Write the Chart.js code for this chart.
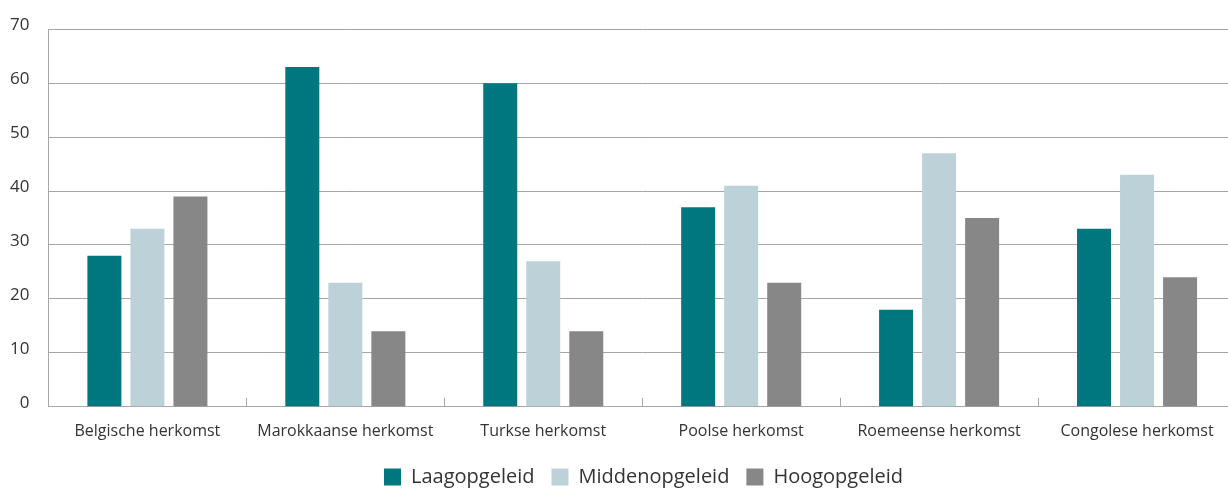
<!DOCTYPE html>
<html>
<head>
<meta charset="utf-8">
<script src="https://cdn.jsdelivr.net/npm/chart.js@4/dist/chart.umd.min.js"></script>
<style>
  html, body { margin: 0; padding: 0; overflow: hidden; background: #fff; }
  #wrap { width: 1236px; height: 492px; }
</style>
</head>
<body>
<div id="wrap"><canvas id="chart"></canvas></div>
<script>
const categories = ["Belgische herkomst", "Marokkaanse herkomst", "Turkse herkomst", "Poolse herkomst", "Roemeense herkomst", "Congolese herkomst"];
const laag = [28, 63, 60, 37, 18, 33];
const midden = [33, 23, 27, 41, 47, 43];
const hoog = [39, 14, 14, 23, 35, 24];
const yTicks = [0, 10, 20, 30, 40, 50, 60, 70];

// short tick marks between categories, pointing up from the x axis
const innerTicks = {
  id: "innerTicks",
  afterLayout(chart) {
    // legend sits a bit right of centre in the original
    chart.legend.left += 30;
    chart.legend.right += 30;
  },
  afterDatasetsDraw(chart) {
    const x = chart.scales.x, y = chart.scales.y;
    const ctx = chart.ctx;
    ctx.save();
    ctx.strokeStyle = "#a6a6a6";
    ctx.lineWidth = 1;
    for (let i = 1; i < categories.length; i++) {
      const px = Math.round((x.getPixelForTick(i - 1) + x.getPixelForTick(i)) / 2) + 0.5;
      ctx.beginPath();
      ctx.moveTo(px, y.bottom);
      ctx.lineTo(px, y.bottom - 9);
      ctx.stroke();
    }
    ctx.restore();
  }
};

new Chart(document.getElementById("chart"), {
  type: "bar",
  data: {
    labels: categories,
    datasets: [
      { label: "Laagopgeleid", data: laag, backgroundColor: "#00767f" },
      { label: "Middenopgeleid", data: midden, backgroundColor: "#bdd1d8" },
      { label: "Hoogopgeleid", data: hoog, backgroundColor: "#878787" }
    ]
  },
  options: {
    responsive: true,
    maintainAspectRatio: false,
    animation: false,
    categoryPercentage: 0.652,
    barPercentage: 0.79,
    layout: { padding: { top: 22, left: -9, right: 0, bottom: -5 } },
    plugins: {
      tooltip: { enabled: false },
      legend: {
        position: "bottom",
        labels: {
          boxWidth: 17,
          boxHeight: 17,
          padding: 17,
          color: "#333333",
          font: { family: "'Open Sans'", size: 20 }
        }
      }
    },
    scales: {
      x: {
        grid: { display: false, drawTicks: false },
        border: { color: "#a6a6a6" },
        afterFit(scale) { scale.height -= 6; },
        ticks: {
          color: "#333333",
          padding: 15,
          maxRotation: 0,
          font: { family: "'Open Sans'", size: 16 }
        }
      },
      y: {
        min: 0,
        max: 70,
        afterBuildTicks(axis) { axis.ticks = yTicks.map(v => ({ value: v })); },
        grid: { color: "#a6a6a6", drawTicks: false },
        border: { color: "#a6a6a6" },
        ticks: {
          color: "#333333",
          padding: 19,
          labelOffset: -4,
          font: { family: "'Open Sans'", size: 17 }
        }
      }
    }
  },
  plugins: [innerTicks]
});
</script>
</body>
</html>
